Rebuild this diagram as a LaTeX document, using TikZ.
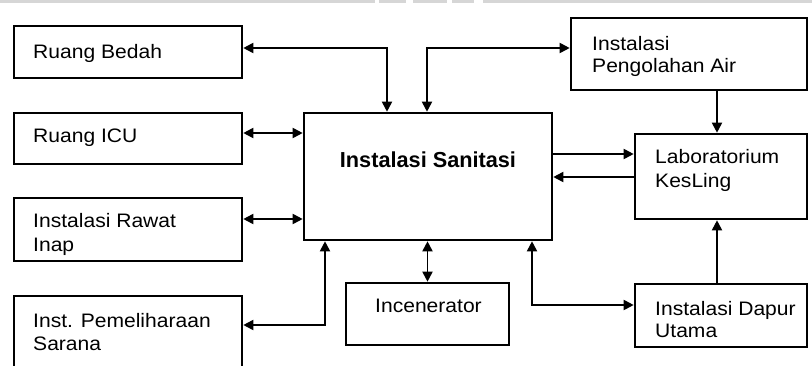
\documentclass[tikz,border=0pt]{standalone}
\usepackage{fontspec}
\setmainfont{Liberation Sans}
\usetikzlibrary{arrows.meta}
\tikzset{
  box/.style={draw=black, line width=2.6pt, rectangle, inner sep=0pt},
  lbl/.style={anchor=base west, inner sep=0pt, xscale=1.08, font=\fontsize{19.5}{24}\selectfont},
  clbl/.style={anchor=base, inner sep=0pt, xscale=1.08, font=\fontsize{19.5}{24}\selectfont},
  tip/.style={},
  conn/.style={draw=black, line width=1.8pt, -{Triangle[length=10pt,width=10pt]}},
  dbl/.style={draw=black, line width=1.8pt, {Triangle[length=10pt,width=10pt]}-{Triangle[length=10pt,width=10pt]}},
  strip/.style={fill=black!16, draw=none}
}
\begin{document}
\begin{tikzpicture}[x=1pt, y=-1pt]
\useasboundingbox (0,0) rectangle (812,365);
\clip (0,0) rectangle (812,365);
% top grey strip
\fill[strip] (0,0) rectangle (375,3);
\fill[strip] (379,0) rectangle (406,3);
\fill[strip] (413,0) rectangle (447,3);
\fill[strip] (452,0) rectangle (474,3);
\fill[strip] (483,0) rectangle (812,3);
% boxes
\node[box, minimum width=228pt, minimum height=52pt] (bedah) at (128,52) {};
\node[box, minimum width=228pt, minimum height=51pt] (icu) at (128,138.5) {};
\node[box, minimum width=228pt, minimum height=63pt] (rawat) at (128,229.5) {};
\node[box, minimum width=228pt, minimum height=104pt] (pemel) at (128,348) {};
\node[box, minimum width=248pt, minimum height=127pt] (sanit) at (428,176.5) {};
\node[box, minimum width=163pt, minimum height=62pt] (incen) at (427.5,314) {};
\node[box, minimum width=236pt, minimum height=72pt] (pengol) at (689,54) {};
\node[box, minimum width=172pt, minimum height=85pt] (lab) at (721,176.5) {};
\node[box, minimum width=172pt, minimum height=63pt] (dapur) at (721,315.5) {};
% texts
\node[lbl] (tbedah) at (33,58) {Ruang Bedah};
\node[lbl] (ticu) at (33,142) {Ruang ICU};
\node[lbl] (trawat1) at (33,227) {Instalasi Rawat};
\node[lbl] (trawat2) at (33,251) {Inap};
\node[lbl] (tpemel1) at (33,327) {Inst. Pemeliharaan};
\node[lbl] (tpemel2) at (33,350) {Sarana};
\node[anchor=base, inner sep=0pt, font=\fontsize{21.7}{24}\selectfont\bfseries] (tsanit) at (428,167) {Instalasi Sanitasi};
\node[clbl] (tincen) at (428.5,312) {Incenerator};
\node[lbl] (tpengol1) at (592,50) {Instalasi};
\node[lbl] (tpengol2) at (592,72) {Pengolahan Air};
\node[lbl] (tlab1) at (655,163) {Laboratorium};
\node[lbl] (tlab2) at (655,187) {KesLing};
\node[lbl] (tdapur1) at (655,315) {Instalasi Dapur};
\node[lbl] (tdapur2) at (655,337) {Utama};
% junction coordinates
\coordinate (j1) at (387,48);
\coordinate (j2) at (427,48);
\coordinate (j3) at (270,133);
\coordinate (j4) at (270,219);
\coordinate (j5) at (325,325);
\coordinate (j6) at (532,305);
\coordinate (j7) at (600,154);
\coordinate (j8) at (600,177);
\coordinate (j9) at (717,100);
% connectors
\draw[dbl] (bedah.east |- j1) -| (sanit.north -| j1);
\draw[dbl] (sanit.north -| j2) |- (pengol.west |- j2);
\draw[dbl] (icu.east |- j3) -- (sanit.west |- j3);
\draw[dbl] (rawat.east |- j4) -- (sanit.west |- j4);
\draw[dbl] (pemel.east |- j5) -| (sanit.south -| j5);
\draw[dbl] (incen.north) -- (sanit.south -| incen.north);
\draw[dbl] (dapur.west |- j6) -| (sanit.south -| j6);
\draw[conn] (sanit.east |- j7) -- (lab.west |- j7);
\draw[conn] (lab.west |- j8) -- (sanit.east |- j8);
\draw[conn] (pengol.south -| j9) -- (lab.north -| j9);
\draw[conn] (dapur.north -| j9) -- (lab.south -| j9);
\end{tikzpicture}
\end{document}
